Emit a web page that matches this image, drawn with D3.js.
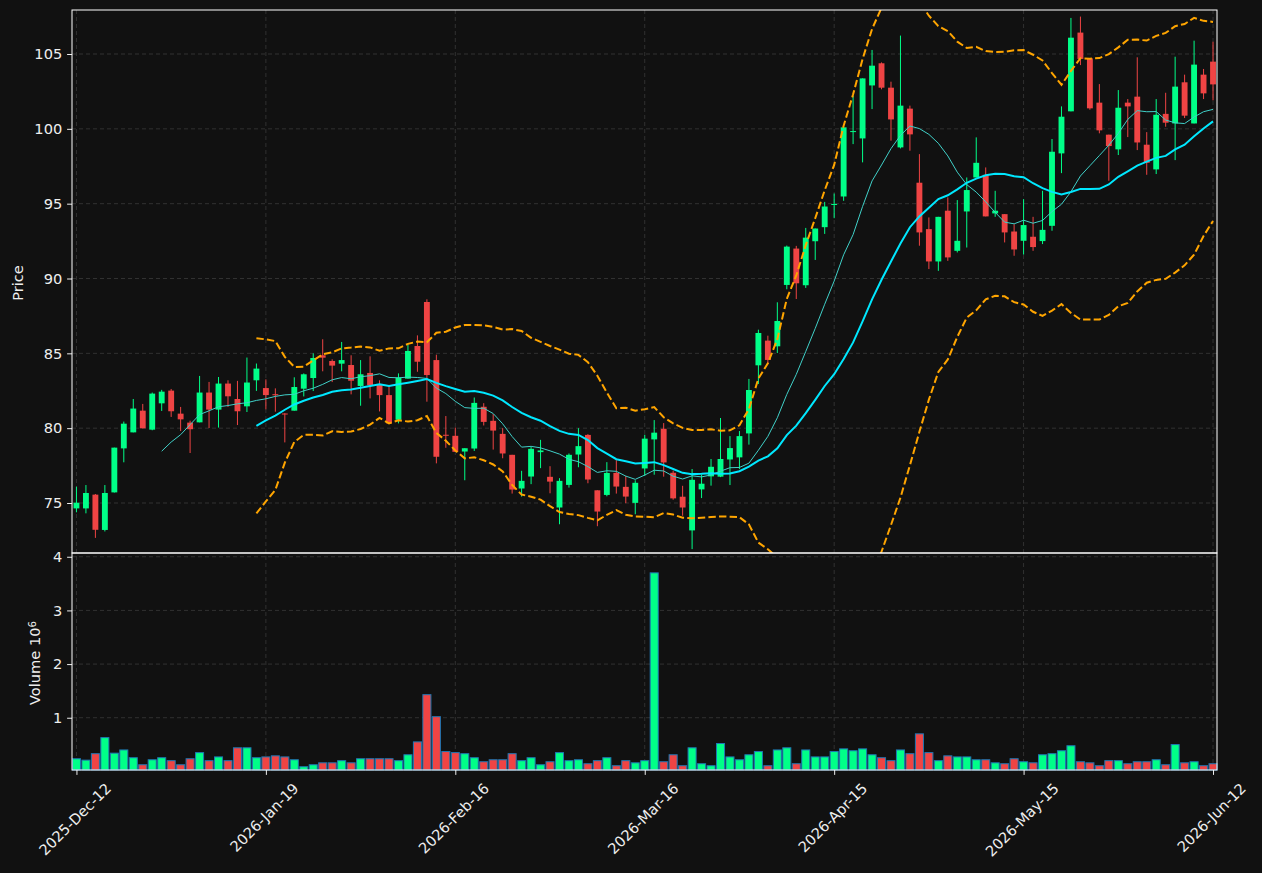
<!DOCTYPE html>
<html>
<head>
<meta charset="utf-8">
<script src="https://cdn.jsdelivr.net/npm/d3@7"></script>
<style>
html, body { margin:0; padding:0; background:#111111; }
svg { display:block; font-family:"DejaVu Sans", sans-serif; }
</style>
</head>
<body>
<svg id="chart" width="1262" height="873"></svg>
<script>
// daily OHLC, index 0 = 2025-Dec-12
var opens = [74.64,74.64,75.56,73.2,75.71,78.65,79.72,81.17,79.9,81.66,
82.51,80.97,80.37,80.39,82.38,81.24,82.98,81.95,81.46,83.2,
82.68,82.27,80.98,81.17,82.64,83.35,84.87,84.49,84.31,84.22,
82.82,83.69,82.95,82.21,80.56,83.31,85.49,88.43,84.55,79.56,
79.49,78.44,78.64,81.43,80.49,79.62,78.22,75.97,76.77,78.4,
76.75,74.7,76.21,78.24,79.55,75.85,75.54,77.01,76.08,75.01,
77.31,79.25,79.96,77.02,75.42,73.17,75.91,76.78,76.76,77.91,
78.05,79.65,84.2,85.85,85.47,89.57,92.0,89.55,92.49,93.43,
94.93,95.48,99.8,99.36,102.9,104.38,102.75,98.76,101.35,96.4,
93.3,91.14,94.53,91.85,94.48,96.75,96.93,94.35,94.3,93.14,
92.52,92.79,92.5,93.52,98.36,101.17,106.43,104.71,101.75,99.61,
98.63,101.75,102.15,98.94,97.29,101.0,100.36,103.11,100.36,103.62,
104.49];
var highs = [76.09,76.2,75.6,76.2,78.7,80.44,81.95,81.62,82.38,82.56,
82.62,81.42,80.5,83.49,83.09,83.42,83.2,83.16,84.72,84.32,
83.26,82.66,81.0,83.4,83.66,85.0,85.94,84.6,85.76,84.87,
84.55,84.8,83.2,82.82,83.66,85.6,86.2,88.61,84.91,80.81,
80.04,78.66,82.05,81.67,80.94,80.0,78.22,77.15,78.75,79.22,
77.46,76.66,78.31,80.0,79.6,75.85,77.73,77.86,76.81,76.52,
79.56,80.54,80.34,77.16,76.15,77.27,76.89,77.94,80.68,79.47,
79.81,83.29,86.58,86.18,88.41,92.2,92.18,93.38,93.34,95.12,
95.68,100.1,102.2,103.37,105.27,104.44,103.15,106.23,101.55,98.31,
94.08,94.12,95.42,95.24,96.75,99.43,97.42,95.86,94.3,93.63,
95.3,94.12,95.86,99.32,101.5,107.41,107.5,104.71,102.99,99.61,
102.59,101.99,104.78,99.78,101.99,102.41,104.82,103.62,105.89,104.0,
105.82];
var lows = [74.38,74.31,72.67,73.1,75.7,77.72,79.72,79.99,79.86,81.15,
80.75,79.81,78.34,80.39,80.01,80.04,81.42,80.21,81.08,82.49,
81.26,81.1,79.05,81.17,82.12,82.48,83.8,83.08,83.8,82.26,
81.5,81.99,81.12,80.32,80.32,83.31,83.77,81.77,77.65,78.69,
78.42,76.52,78.48,80.18,78.57,77.99,75.63,75.43,76.26,77.33,
75.65,73.58,76.03,77.39,76.32,73.45,75.45,75.63,74.99,74.25,
76.82,76.89,76.76,75.22,74.15,71.92,75.33,76.16,76.73,76.2,
77.27,78.9,82.95,84.29,85.02,89.28,88.63,89.37,91.24,92.98,
94.03,95.19,98.98,97.76,101.32,102.64,99.21,98.69,98.54,92.19,
90.63,90.51,91.18,91.74,92.07,96.75,94.15,94.12,92.41,91.52,
91.6,91.85,92.3,93.19,97.04,101.17,104.26,101.28,99.7,96.53,
98.25,99.45,98.58,96.93,96.98,100.14,97.91,100.72,100.36,101.99,
101.9];
var closes = [75.02,75.67,73.21,75.67,78.7,80.3,81.31,79.99,82.31,82.44,
81.13,80.59,79.93,82.38,81.24,82.98,82.13,81.13,83.05,83.98,
82.21,82.2,80.95,82.75,83.6,84.69,84.71,84.18,84.55,83.17,
83.6,82.86,82.21,80.32,83.37,85.16,84.44,83.55,78.09,79.52,
78.42,78.66,81.69,80.42,79.84,78.31,75.9,76.48,78.62,78.51,
76.43,76.48,78.22,78.8,76.57,74.43,77.01,76.1,75.43,76.35,
79.3,79.7,77.71,75.31,74.7,76.55,76.29,77.42,77.94,78.67,
79.47,82.55,86.36,84.56,87.16,92.13,89.68,92.73,93.34,94.81,
94.98,100.1,99.85,103.37,104.22,102.75,100.63,101.55,99.63,93.08,
91.14,94.12,91.41,92.52,95.91,97.73,94.15,94.53,93.08,91.94,
93.57,92.1,93.25,98.47,100.81,106.09,104.67,101.37,99.9,98.85,
101.41,101.5,99.09,97.73,100.94,100.41,102.82,100.88,104.29,102.37,
102.97];
// volume in millions
var volumes = [0.236,0.21,0.33,0.63,0.34,0.40,0.255,0.124,0.217,0.255,
0.2,0.124,0.236,0.35,0.2,0.27,0.2,0.44,0.44,0.255,
0.27,0.29,0.27,0.217,0.087,0.124,0.16,0.16,0.2,0.16,
0.236,0.236,0.236,0.236,0.2,0.31,0.55,1.43,1.02,0.37,
0.35,0.33,0.255,0.18,0.217,0.217,0.33,0.2,0.255,0.124,
0.18,0.35,0.2,0.217,0.143,0.2,0.255,0.106,0.2,0.16,
0.2,3.70,0.18,0.31,0.106,0.44,0.143,0.106,0.52,0.27,
0.217,0.31,0.37,0.106,0.40,0.44,0.143,0.40,0.27,0.27,
0.37,0.42,0.385,0.42,0.31,0.255,0.2,0.40,0.33,0.70,
0.35,0.2,0.29,0.27,0.27,0.217,0.217,0.16,0.143,0.236,
0.18,0.16,0.31,0.33,0.385,0.478,0.18,0.16,0.106,0.2,
0.2,0.143,0.18,0.18,0.217,0.124,0.50,0.16,0.18,0.106,
0.143];

var tickIndex = [0,20,40,60,80,100,120];
var tickLabels = ["2025-Dec-12","2026-Jan-19","2026-Feb-16","2026-Mar-16","2026-Apr-15","2026-May-15","2026-Jun-12"];
var priceTicks = [75,80,85,90,95,100,105];
var volTicks = [1,2,3,4];

var upColor = "#00ff88";
var downColor = "#ef4444";
var fs = 14.6;

// plot box (note: "top" is reserved on window, so pTop)
var pLeft = 72, pRight = 1217, pTop = 10, pMid = 553, pBottom = 770;
var n = closes.length;

var svg = d3.select("#chart");
svg.append("rect").attr("width",1262).attr("height",873).attr("fill","#111111");

var x = d3.scaleLinear().domain([-0.47, 120.42]).range([pLeft, pRight]);
var y = d3.scaleLinear().domain([71.66, 107.94]).range([pMid, pTop]);
var yv = d3.scaleLinear().domain([0.3*d3.min(volumes), 1.1*d3.max(volumes)]).range([pBottom, pMid]);
var step = x(1) - x(0);

svg.append("clipPath").attr("id","pclip").append("rect")
  .attr("x",pLeft).attr("y",pTop).attr("width",pRight-pLeft).attr("height",pMid-pTop);

// grid
var grid = svg.append("g").attr("stroke","#3a3a3a").attr("stroke-width",0.8).attr("stroke-dasharray","4,3");
grid.selectAll(".hp").data(priceTicks).join("line")
  .attr("x1",pLeft).attr("x2",pRight).attr("y1",d=>y(d)).attr("y2",d=>y(d));
grid.selectAll(".hv").data(volTicks).join("line")
  .attr("x1",pLeft).attr("x2",pRight).attr("y1",d=>yv(d)).attr("y2",d=>yv(d));
grid.selectAll(".vx").data(tickIndex).join("line")
  .attr("x1",d=>x(d)).attr("x2",d=>x(d)).attr("y1",pTop).attr("y2",pBottom);

// rolling stats from closes
function rolling(period, fn) {
  return closes.map(function(c, i) {
    if (i < period-1) return null;
    return fn(closes.slice(i-period+1, i+1));
  });
}
var ma10 = rolling(10, d3.mean);
var ma20 = rolling(20, d3.mean);
var sd20 = rolling(20, function(w){ var m = d3.mean(w); return Math.sqrt(d3.mean(w, v => (v-m)*(v-m))); });
var upper = ma20.map((m,i) => m == null ? null : m + 2*sd20[i]);
var lower = ma20.map((m,i) => m == null ? null : m - 2*sd20[i]);

// candles
var idx = d3.range(n);
var cw = step*0.62;
var candles = svg.append("g").attr("clip-path","url(#pclip)");
candles.selectAll("line").data(idx).join("line")
  .attr("x1",i=>x(i)).attr("x2",i=>x(i))
  .attr("y1",i=>y(highs[i])).attr("y2",i=>y(lows[i]))
  .attr("stroke",i=>closes[i]>=opens[i]?upColor:downColor).attr("stroke-width",1);
candles.selectAll("rect").data(idx).join("rect")
  .attr("x",i=>x(i)-cw/2).attr("width",cw)
  .attr("y",i=>y(Math.max(opens[i],closes[i])))
  .attr("height",i=>Math.max(1,Math.abs(y(opens[i])-y(closes[i]))))
  .attr("fill",i=>closes[i]>=opens[i]?upColor:downColor);

// overlays
function drawLine(vals, color, w, dash) {
  var line = d3.line().defined(i => vals[i] != null).x(i => x(i)).y(i => y(vals[i]));
  svg.append("path").attr("clip-path","url(#pclip)")
    .attr("d", line(idx)).attr("fill","none")
    .attr("stroke",color).attr("stroke-width",w)
    .attr("stroke-dasharray",dash || null);
}
drawLine(ma10, "#40d0c8", 1);
drawLine(ma20, "#00e8ff", 2);
drawLine(upper, "#ffa500", 2, "7.4,3.2");
drawLine(lower, "#ffa500", 2, "7.4,3.2");

// volume bars
var vw = step*0.85;
svg.append("g").selectAll("rect").data(idx).join("rect")
  .attr("x",i=>x(i)-vw/2).attr("width",vw)
  .attr("y",i=>yv(volumes[i])).attr("height",i=>pBottom-yv(volumes[i]))
  .attr("fill",i=>closes[i]>=opens[i]?upColor:downColor)
  .attr("stroke","#1f77b4").attr("stroke-width",1);

// axes
function styleAxis(g) {
  g.attr("font-size",fs).attr("font-family","DejaVu Sans");
  g.select(".domain").remove();
  g.selectAll(".tick line").attr("stroke","#eeeeee");
  g.selectAll(".tick text").attr("fill","#eeeeee");
}
svg.append("g").attr("transform","translate("+pLeft+",0)")
  .call(d3.axisLeft(y).tickValues(priceTicks).tickSize(4.9).tickPadding(4.9).tickFormat(d3.format("d")))
  .call(styleAxis);
svg.append("g").attr("transform","translate("+pLeft+",0)")
  .call(d3.axisLeft(yv).tickValues(volTicks).tickSize(4.9).tickPadding(4.9).tickFormat(d3.format("d")))
  .call(styleAxis);
var xg = svg.append("g").attr("transform","translate(0,"+pBottom+")")
  .call(d3.axisBottom(x).tickValues(tickIndex).tickSize(4.9).tickFormat((d,i)=>tickLabels[i]))
  .call(styleAxis);
xg.selectAll(".tick text").each(function(d) {
  var t = d3.select(this);
  var L = this.getComputedTextLength();
  var half = (L + fs*1.16) / (2*Math.SQRT2);
  t.attr("text-anchor","middle").attr("y",null).attr("dy","0.35em")
   .attr("transform","translate(-2,"+(9.8+half)+") rotate(-45)");
});

// frames
var frame = svg.append("g").attr("fill","none").attr("stroke","#ffffff").attr("stroke-width",1);
frame.append("rect").attr("x",pLeft).attr("y",pTop).attr("width",pRight-pLeft).attr("height",pMid-pTop);
frame.append("rect").attr("x",pLeft).attr("y",pMid).attr("width",pRight-pLeft).attr("height",pBottom-pMid);

// labels
svg.append("text").attr("transform","translate(18,283) rotate(-90)")
  .attr("text-anchor","middle").attr("dy","0.35em").attr("fill","#eeeeee").attr("font-size",fs).text("Price");
var vl = svg.append("text").attr("transform","translate(35,663) rotate(-90)")
  .attr("text-anchor","middle").attr("dy","0.35em").attr("fill","#eeeeee").attr("font-size",fs);
vl.append("tspan").text("Volume  10");
vl.append("tspan").attr("dy","-0.45em").attr("font-size",fs*0.7).text("6");
</script>
</body>
</html>
